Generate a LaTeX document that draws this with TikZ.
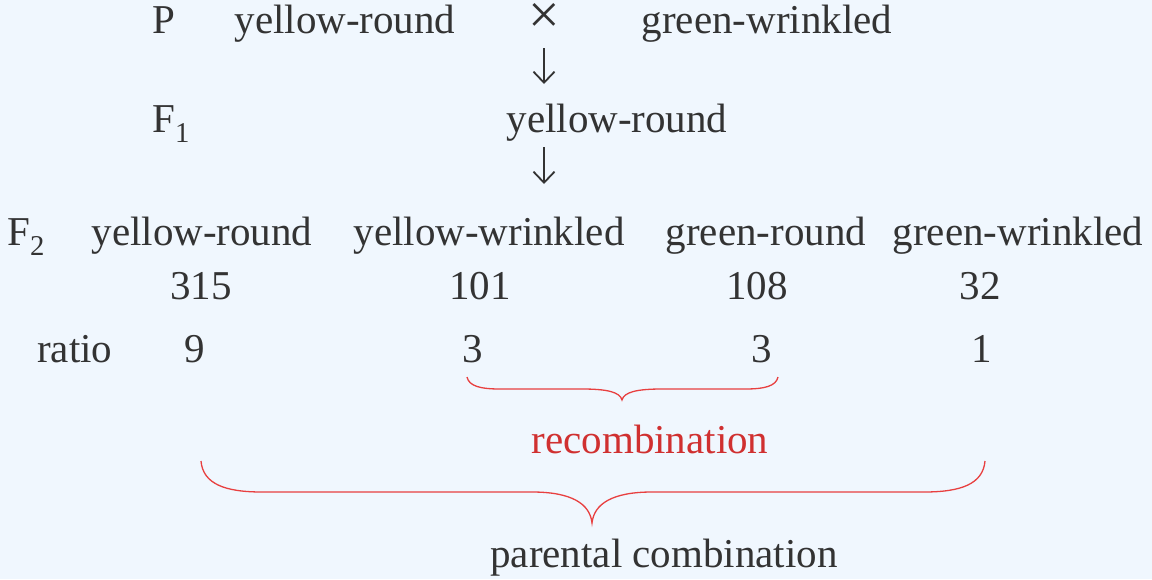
\documentclass[tikz,border=0pt]{standalone}
\usepackage{fontspec}
\setmainfont{Liberation Serif}
\usetikzlibrary{arrows.meta}
\definecolor{bg}{RGB}{240,247,254}
\definecolor{txt}{RGB}{51,51,51}
\definecolor{redtxt}{RGB}{208,48,48}
\definecolor{bracered}{RGB}{232,64,64}
\begin{document}
\begin{tikzpicture}[x=1pt,y=-1pt,
  lbl/.style={inner sep=0pt, anchor=base, text=txt, font=\fontsize{41}{48}\selectfont},
  lblw/.style={lbl, anchor=base west},
  redlbl/.style={lbl, text=redtxt},
  crosslbl/.style={lbl, font=\fontsize{56}{60}\selectfont, text height=29pt, text depth=0pt},
  downarrow/.style={draw=txt, line width=1.8pt, -{Straight Barb[length=11pt,width=21pt,line width=1.8pt]}},
  bracepath/.style={draw=bracered, line width=1.3pt}]
\fill[bg] (0,0) rectangle (1152,579);
\useasboundingbox (0,0) rectangle (1152,579);
% row P
\node[lblw] (P) at (152,33) {P};
\node[lbl] (Pyr) at (345,33) {yellow-round};
\node[crosslbl] (cross) at (544,33) {×};
\node[lbl] (Pgw) at (767,33) {green-wrinkled};
% arrows
\coordinate (a1s) at (544,48);
\coordinate (a1e) at (544,84);
\coordinate (a2s) at (544,147);
\coordinate (a2e) at (544,184);
\draw[downarrow] (a1s) -- (a1e);
\draw[downarrow] (a2s) -- (a2e);
% row F1
\node[lblw] (F1) at (152,132) {F\textsubscript{1}};
\node[lbl] (F1yr) at (617,132) {yellow-round};
% row F2
\node[lblw] (F2) at (7,245) {F\textsubscript{2}};
\node[lbl] (yr) at (202,245) {yellow-round};
\node[lbl] (yw) at (489,245) {yellow-wrinkled};
\node[lbl] (gr) at (766,245) {green-round};
\node[lbl] (gw) at (1018,245) {green-wrinkled};
% numbers
\node[lbl] (n1) at (201,299) {315};
\node[lbl] (n2) at (480,299) {101};
\node[lbl] (n3) at (757,299) {108};
\node[lbl] (n4) at (980,299) {32};
% ratio
\node[lblw] (ratio) at (37,362) {ratio};
\node[lbl] (r1) at (195,362) {9};
\node[lbl] (r2) at (473,362) {3};
\node[lbl] (r3) at (762,362) {3};
\node[lbl] (r4) at (982,362) {1};
% recombination brace
\coordinate (rb1) at (467,377);
\coordinate (rbt) at (622,400);
\coordinate (rb2) at (778,377);
\draw[bracepath] (rb1) .. controls (469,386) and (480,389) .. (500,389)
  -- (582,389) .. controls (607,389) and (620,392) .. (rbt)
  .. controls (624,392) and (637,389) .. (662,389)
  -- (745,389) .. controls (765,389) and (776,386) .. (rb2);
\node[redlbl] (recomb) at (650,453) {recombination};
% parental brace
\coordinate (pb1) at (201,461);
\coordinate (pbt) at (592,523);
\coordinate (pb2) at (985,461);
\draw[bracepath] (pb1) .. controls (203,484) and (225,492) .. (262,492)
  -- (532,492) .. controls (572,492) and (590,504) .. (pbt)
  .. controls (594,504) and (612,492) .. (652,492)
  -- (924,492) .. controls (961,492) and (983,484) .. (pb2);
\node[lbl] (parental) at (664,567) {parental combination};
\end{tikzpicture}
\end{document}
